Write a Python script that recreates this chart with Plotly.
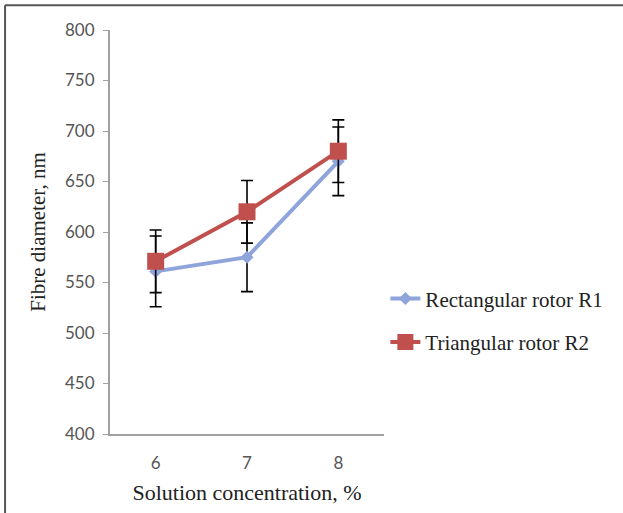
import plotly.graph_objects as go

categories = ["6", "7", "8"]
r1_values = [561, 575, 670]
r1_errors = [35, 34, 34]
r2_values = [571, 620, 680]
r2_errors = [31, 31, 31]
series_names = ["Rectangular rotor R1", "Triangular rotor R2"]
y_ticks = [400, 450, 500, 550, 600, 650, 700, 750, 800]

fig = go.Figure()
fig.add_trace(go.Scatter(
    x=categories, y=r1_values, name=series_names[0], mode="lines+markers",
    line=dict(color="#8EA4DB", width=4),
    marker=dict(symbol="diamond", size=10, color="#8EA4DB"),
    error_y=dict(type="data", array=r1_errors, visible=True, color="black", thickness=1.6, width=6),
    legendgroup="a",
))
fig.add_trace(go.Scatter(
    x=categories, y=r2_values, name=series_names[1], mode="lines+markers",
    line=dict(color="#C0504D", width=4),
    marker=dict(symbol="square", size=17, color="#C0504D"),
    error_y=dict(type="data", array=r2_errors, visible=True, color="black", thickness=1.6, width=6),
    legendgroup="b",
))

fig.update_layout(
    width=623, height=513,
    margin=dict(l=110, r=239, t=30, b=76),
    paper_bgcolor="white", plot_bgcolor="white",
    font=dict(family="Liberation Serif", color="#222"),
    showlegend=True,
    legend=dict(x=1.005, xanchor="left", y=0.385, yanchor="top", xref="paper",
                font=dict(family="Liberation Serif", size=21, color="#222"),
                traceorder="grouped", tracegroupgap=13,
                bgcolor="rgba(0,0,0,0)"),
    xaxis=dict(type="category", range=[-0.5, 2.5], showline=True, linecolor="#A0A0A0", linewidth=2,
               ticks="", showgrid=False, zeroline=False, ticklabelstandoff=13,
               tickfont=dict(family="Lato", size=17, color="#555"),
               title=dict(text="Solution concentration, %", font=dict(family="Liberation Serif", size=22, color="#222"), standoff=12)),
    yaxis=dict(range=[400, 800], tickvals=y_ticks, showline=True, linecolor="#A0A0A0", linewidth=2,
               ticks="outside", ticklen=5, tickcolor="#A0A0A0", showgrid=False, zeroline=False,
               ticklabelstandoff=5,
               tickfont=dict(family="Lato", size=17, color="#555"),
               title=dict(text="Fibre diameter, nm", font=dict(family="Liberation Serif", size=21, color="#222"), standoff=14)),
    shapes=[
        dict(type="line", xref="paper", yref="paper", x0=-0.383, x1=2.0, y0=1.0614, y1=1.0614,
             line=dict(color="#555", width=2)),
        dict(type="line", xref="paper", yref="paper", x0=-0.383, x1=-0.383, y0=1.0614, y1=-0.2,
             line=dict(color="#555", width=2)),
    ],
)

fig.write_html("out.html", config={"displayModeBar": False},
               post_script="document.body.style.margin='0';document.body.style.overflow='hidden';")
